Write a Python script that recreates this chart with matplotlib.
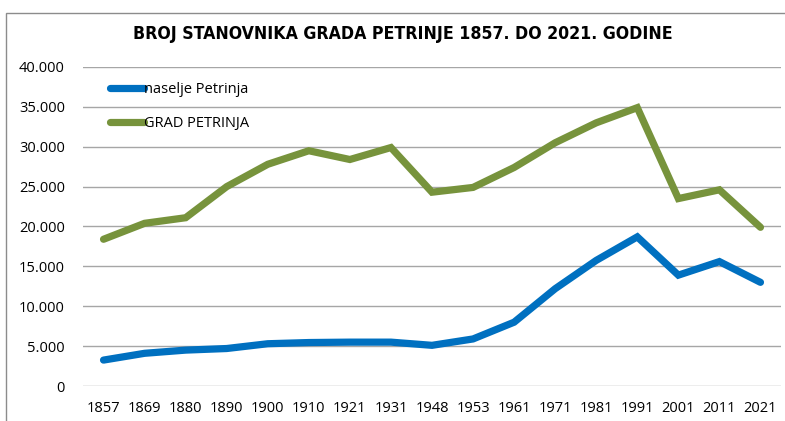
import matplotlib
matplotlib.use("Agg")
import matplotlib.pyplot as plt
from matplotlib.patches import Rectangle
from matplotlib.ticker import FuncFormatter

years = ["1857", "1869", "1880", "1890", "1900", "1910", "1921", "1931", "1948",
         "1953", "1961", "1971", "1981", "1991", "2001", "2011", "2021"]
naselje = [3250, 4100, 4500, 4700, 5300, 5450, 5500, 5500, 5100,
           5900, 8000, 12200, 15750, 18700, 13900, 15600, 13000]
grad = [18400, 20400, 21100, 25000, 27800, 29500, 28400, 29900, 24300,
        24900, 27400, 30500, 33000, 34900, 23500, 24600, 19900]

W, H = 785, 421
fig = plt.figure(figsize=(W / 100, H / 100), dpi=100)
fig.patch.set_facecolor("white")

# outer frame
fig.patches.append(Rectangle((5.5 / W, -0.1), 1.2, 1 - 12.5 / H + 0.1,
                             transform=fig.transFigure, fill=False,
                             edgecolor="#8c8c8c", linewidth=1.0))

ax = fig.add_axes([83 / W, 1 - 386 / H, (781 - 83) / W, (386 - 67) / H])
x = list(range(len(years)))
ax.plot(x, naselje, color="#0070C0", lw=5.2, solid_capstyle="round",
        solid_joinstyle="miter", label="naselje Petrinja", zorder=3)
ax.plot(x, grad, color="#77933C", lw=5.2, solid_capstyle="round",
        solid_joinstyle="miter", label="GRAD PETRINJA", zorder=3)

ax.set_xlim(-0.5, len(years) - 0.5)
ax.set_ylim(0, 40000)
ax.set_yticks(range(0, 40001, 5000))
ax.yaxis.set_major_formatter(FuncFormatter(lambda v, p: "0" if v == 0 else f"{int(v):,}".replace(",", ".")))
ax.set_xticks(x)
ax.set_xticklabels(years)
ax.grid(axis="y", color="#a6a6a6", lw=1.0)
ax.set_axisbelow(True)
for s in ax.spines.values():
    s.set_visible(False)
ax.tick_params(axis="both", length=0, labelsize=10.5, colors="black")
ax.tick_params(axis="y", pad=13)
ax.tick_params(axis="x", pad=11)
for lab in ax.get_xticklabels() + ax.get_yticklabels():
    lab.set_fontfamily("Open Sans")

leg = ax.legend(loc="upper left", bbox_to_anchor=(0.02, 0.995), frameon=False,
                handlelength=2.35, handletextpad=0.0, labelspacing=1.33,
                prop={"family": "Open Sans", "size": 10.5})

fig.text(403 / W, 1 - 34 / H, "BROJ STANOVNIKA GRADA PETRINJE 1857. DO 2021. GODINE",
         ha="center", va="center", fontsize=12.7, fontweight="bold",
         family="DejaVu Sans", fontstretch="condensed")

fig.savefig("out.png", dpi=100)
